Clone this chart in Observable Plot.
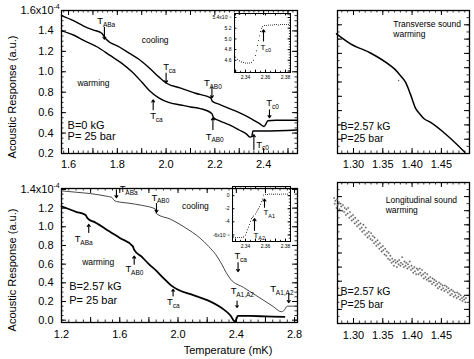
<!DOCTYPE html>
<html><head><meta charset="utf-8">
<script src="https://cdn.jsdelivr.net/npm/d3@7"></script>
<script src="https://cdn.jsdelivr.net/npm/@observablehq/plot@0.6"></script>
<style>
body{margin:0;background:#fff;font-family:"Liberation Sans",Arial,sans-serif;}
#wrap{position:relative;width:474px;height:359px;overflow:hidden;background:#fff;}
#wrap svg{position:absolute;}
.lbl{position:absolute;font-size:11px;color:#000;white-space:nowrap;z-index:5;}
</style></head><body><div id="wrap"></div><script>
// ---------- DATA ----------
// Top-left: B = 0 kG, P = 25 bar
const tlCool = [[1.571,1.55],[1.62,1.50],[1.66,1.45],[1.70,1.41],[1.735,1.38],[1.742,1.36],[1.752,1.325],[1.81,1.24],[1.85,1.18],[1.89,1.12],[1.93,1.04],[1.97,0.95],[2.0,0.89],[2.06,0.84],[2.12,0.79],[2.183,0.745],[2.19,0.71],[2.22,0.68],[2.26,0.64],[2.30,0.60],[2.35,0.54],[2.385,0.49],[2.402,0.465],[2.418,0.52],[2.45,0.525],[2.539,0.525]];
const tlWarm = [[1.571,1.40],[1.62,1.36],[1.66,1.31],[1.72,1.24],[1.77,1.16],[1.82,1.08],[1.86,1.0],[1.90,0.90],[1.93,0.82],[1.97,0.745],[2.01,0.70],[2.06,0.675],[2.10,0.655],[2.14,0.64],[2.188,0.59],[2.195,0.55],[2.22,0.52],[2.26,0.48],[2.30,0.43],[2.33,0.39],[2.345,0.36],[2.352,0.37],[2.356,0.42],[2.40,0.42],[2.539,0.43]];
const tlXTicks = [1.6,1.8,2.0,2.2,2.4];
const tlYTicks = [0.2,0.4,0.6,0.8,1.0,1.2,1.4,1.6];
const tlSubs = ["ABa","ca","ca","AB0","AB0","c0","c0"];
const tlSubX = [1.718,1.988,1.935,2.155,2.163,2.411,2.370];
const tlSubY = [1.496,1.046,0.570,0.891,0.366,0.696,0.288];
const tlArrX = [1.747,2.0,1.947,2.188,2.192,2.424,2.360];
const tlArrY1 = [1.435,0.988,0.628,0.852,0.434,0.628,0.239];
const tlArrY2 = [1.318,0.891,0.725,0.745,0.550,0.550,0.385];
// Top inset (warming T_c0)
const tiPts = [[2.330,4.66],[2.332,4.62],[2.334,4.59],[2.336,4.57],[2.338,4.56],[2.340,4.55],[2.342,4.55],[2.344,4.55],[2.346,4.56],[2.348,4.60],[2.350,4.69],[2.351,4.78],[2.352,4.88],[2.353,4.97],[2.354,5.06],[2.355,5.14],[2.356,5.20],[2.357,5.23],[2.359,5.25],[2.361,5.25],[2.363,5.26],[2.365,5.26],[2.367,5.26],[2.369,5.27],[2.371,5.27],[2.373,5.26],[2.375,5.27],[2.377,5.27],[2.379,5.27],[2.381,5.27],[2.383,5.27]];
const tiXTicks = [2.34,2.36,2.38];
const tiYTicks = [4.6,4.8,5.0,5.2,5.4];
// Bottom-left: B = 2.57 kG
const blCool = [[1.2,1.385],[1.3,1.37],[1.4,1.355],[1.5,1.33],[1.545,1.315],[1.56,1.285],[1.58,1.27],[1.65,1.255],[1.75,1.23],[1.845,1.19],[1.852,1.14],[1.95,1.08],[2.05,0.99],[2.15,0.88],[2.21,0.79],[2.26,0.70],[2.30,0.60],[2.33,0.51],[2.36,0.44],[2.45,0.35],[2.55,0.25],[2.65,0.15],[2.71,0.09],[2.725,0.10],[2.75,0.15],[2.82,0.15]];
const blWarm = [[1.2,1.22],[1.3,1.16],[1.365,1.125],[1.375,1.10],[1.39,1.075],[1.42,1.055],[1.5,0.98],[1.6,0.88],[1.69,0.79],[1.698,0.755],[1.75,0.68],[1.80,0.60],[1.85,0.53],[1.90,0.45],[1.95,0.375],[2.0,0.325],[2.1,0.27],[2.2,0.215],[2.3,0.13],[2.36,0.05],[2.39,-0.015],[2.40,0.01],[2.41,0.045],[2.5,0.045],[2.6,0.04],[2.73,0.035]];
const blXTicks = [1.2,1.6,2.0,2.4,2.8];
const blYTicks = [0.0,0.2,0.4,0.6,0.8,1.0,1.2,1.4];
const blSubs = ["ABa","AB0","ABa","AB0","ca","ca","A1,A2","A1,A2"];
const blSubX = [1.600,1.817,1.291,1.639,1.925,2.387,2.361,2.633];
const blSubY = [1.40,1.314,0.865,0.544,0.191,0.683,0.312,0.334];
const blArrX = [1.577,1.852,1.387,1.699,1.966,2.412,2.405,2.760];
const blArrY1 = [1.397,1.250,0.940,0.598,0.259,0.616,0.205,0.288];
const blArrY2 = [1.311,1.154,1.026,0.687,0.330,0.520,0.135,0.188];
// Bottom inset (T_A1, T_A2)
const biPts = [[2.328,-6.3],[2.330,-6.4],[2.332,-6.4],[2.334,-6.4],[2.336,-6.4],[2.338,-6.3],[2.340,-6.0],[2.341,-5.6],[2.342,-5.2],[2.343,-4.8],[2.344,-4.4],[2.345,-3.9],[2.346,-3.5],[2.347,-3.3],[2.348,-3.1],[2.350,-2.8],[2.351,-2.5],[2.352,-2.2],[2.353,-2.0],[2.354,-1.7],[2.355,-1.3],[2.356,-0.9],[2.357,-0.5],[2.358,0.1],[2.360,0.2],[2.362,0.2],[2.364,0.25],[2.366,0.25],[2.368,0.2],[2.370,0.25],[2.372,0.25],[2.374,0.2],[2.376,0.25],[2.378,0.25],[2.380,0.25],[2.382,0.25]];
const biXTicks = [2.34,2.36,2.38];
const biYTicks = [0,-2,-4,-6];
// Top-right: transverse sound, warming
const trPts = [[1.271,8.37],[1.295,7.67],[1.329,7.03],[1.363,6.15],[1.370,5.92],[1.380,5.45],[1.389,4.97],[1.397,4.17],[1.406,3.15],[1.413,2.78],[1.420,2.45],[1.431,2.19],[1.460,1.26],[1.490,0.09]];
const trStray = [[1.377,5.10]];
// Bottom-right: longitudinal sound, warming
const brPts = [[1.267,8.9],[1.268,8.5],[1.269,8.7],[1.271,8.2],[1.272,8.8],[1.273,8.4],[1.275,8.6],[1.276,8.1],[1.278,8.5],[1.279,8.3],[1.281,8.0],[1.282,8.4],[1.284,7.9],[1.285,8.2],[1.287,7.7],[1.288,8.1],[1.290,7.8],[1.291,8.2],[1.293,7.5],[1.294,7.9],[1.296,7.6],[1.297,7.3],[1.299,7.7],[1.300,7.4],[1.302,7.1],[1.303,7.5],[1.305,7.2],[1.306,6.9],[1.308,7.3],[1.309,7.0],[1.311,6.7],[1.312,7.1],[1.314,6.8],[1.315,6.5],[1.317,7.0],[1.318,6.6],[1.320,6.3],[1.321,6.8],[1.323,6.4],[1.324,6.1],[1.326,6.5],[1.327,6.2],[1.329,6.0],[1.330,6.4],[1.332,5.9],[1.333,6.2],[1.335,5.7],[1.336,6.1],[1.338,5.8],[1.339,5.5],[1.341,5.9],[1.342,5.6],[1.344,5.3],[1.345,5.7],[1.347,5.4],[1.348,5.1],[1.350,5.5],[1.351,5.2],[1.353,4.9],[1.354,5.3],[1.356,4.8],[1.357,5.1],[1.359,4.6],[1.360,5.0],[1.362,4.5],[1.363,4.8],[1.365,4.3],[1.366,4.6],[1.368,4.4],[1.369,4.1],[1.371,4.5],[1.372,4.3],[1.374,4.0],[1.375,4.4],[1.377,4.2],[1.378,4.5],[1.380,4.1],[1.381,4.3],[1.383,4.7],[1.384,4.2],[1.386,4.0],[1.387,4.4],[1.389,4.1],[1.390,4.3],[1.392,3.9],[1.393,4.2],[1.395,4.0],[1.396,4.4],[1.398,3.8],[1.399,4.1],[1.401,3.9],[1.402,3.6],[1.404,4.0],[1.405,3.7],[1.407,3.5],[1.408,3.9],[1.410,3.8],[1.411,3.5],[1.413,3.9],[1.414,3.6],[1.416,3.4],[1.417,3.8],[1.419,3.5],[1.420,3.2],[1.422,3.6],[1.423,3.3],[1.425,3.1],[1.426,3.5],[1.428,3.2],[1.429,3.0],[1.431,3.3],[1.432,3.0],[1.434,2.8],[1.435,3.2],[1.437,2.9],[1.438,3.1],[1.440,2.7],[1.441,3.0],[1.443,2.8],[1.444,2.5],[1.446,2.9],[1.447,2.6],[1.449,2.8],[1.450,2.4],[1.452,2.7],[1.453,2.5],[1.455,2.3],[1.456,2.7],[1.458,2.4],[1.459,2.6],[1.461,2.2],[1.462,2.5],[1.464,2.3],[1.465,2.0],[1.467,2.4],[1.468,2.1],[1.470,2.3],[1.471,1.9],[1.473,2.2],[1.474,2.0],[1.476,1.8],[1.477,2.2],[1.479,1.9],[1.480,2.1],[1.482,1.7],[1.483,2.0],[1.485,1.8],[1.486,1.6],[1.488,1.9],[1.489,1.7],[1.491,1.5],[1.492,1.8]];
const rXTicks = [1.30,1.35,1.40,1.45];

// ---------- HELPERS ----------
const FONT = '"Liberation Sans", Arial, sans-serif';
function range(lo, hi, step) { const o = []; const n = Math.round((hi - lo) / step); for (let i = 0; i <= n; i++) o.push(+(lo + i * step).toFixed(6)); return o; }
function inTicks(xs, ys, len, fw, fh, sw) {
  return [
    Plot.tickX(xs, {x: d => d, insetTop: fh - len, stroke: "#000", strokeWidth: sw}),
    Plot.tickX(xs, {x: d => d, insetBottom: fh - len, stroke: "#000", strokeWidth: sw}),
    Plot.tickY(ys, {y: d => d, insetRight: fw - len, stroke: "#000", strokeWidth: sw}),
    Plot.tickY(ys, {y: d => d, insetLeft: fw - len, stroke: "#000", strokeWidth: sw})
  ];
}
function tLabels(subs, xs, ys, fs, sfs, dx) {
  const d = subs.map((s, i) => ({s, x: xs[i], y: ys[i]}));
  return [
    Plot.text(d, {x: "x", y: "y", text: () => "T", textAnchor: "start", fontSize: fs}),
    Plot.text(d, {x: "x", y: "y", text: "s", textAnchor: "start", dx: dx, dy: fs * 0.4, fontSize: sfs})
  ];
}
function arrows(xs, y1s, y2s) {
  const d = xs.map((x, i) => ({x, y1: y1s[i], y2: y2s[i]}));
  return Plot.arrow(d, {x1: "x", x2: "x", y1: "y1", y2: "y2", headLength: 3.5, headAngle: 70, strokeWidth: 1.1, stroke: "#000"});
}
function place(svg, left, top) {
  svg.style.left = left + "px"; svg.style.top = top + "px";
  document.getElementById("wrap").appendChild(svg);
}
function panel(o) {
  const fw = o.width - o.ml - o.mr, fh = o.height - o.mt - o.mb;
  const marks = [
    Plot.frame({stroke: "#000", strokeWidth: o.fsw || 1.3}),
    ...inTicks(o.xMinor, o.yMinor, o.minLen, fw, fh, 0.8),
    ...inTicks(o.xMajor, o.yMajor, o.majLen, fw, fh, 1),
    ...(o.xLabels ? [Plot.axisX(o.xLabels, {tickSize: 0, tickPadding: o.xPad, tickFormat: o.xFmt, fontSize: o.fs, label: null})] : []),
    ...(o.yLabels ? [Plot.axisY(o.yLabels, {tickSize: 0, tickPadding: o.yPad, tickFormat: o.yFmt, fontSize: o.fs, label: null})] : []),
    ...o.marks
  ];
  return Plot.plot({
    width: o.width, height: o.height,
    marginLeft: o.ml, marginRight: o.mr, marginTop: o.mt, marginBottom: o.mb,
    x: {domain: o.xd, axis: null}, y: {domain: o.yd, axis: null},
    style: {background: "transparent", fontFamily: FONT, color: "#000", overflow: "visible"},
    marks
  });
}
const line = (pts, sw, col) => Plot.line(pts, {x: d => d[0], y: d => d[1], stroke: col || "#000", strokeWidth: sw, curve: "monotone-x"});

// ---------- TOP-LEFT ----------
place(panel({
  width: 300, height: 178, ml: 61, mr: 3, mt: 10, mb: 25,
  xd: [1.571, 2.539], yd: [0.2, 1.6],
  xMinor: range(1.58, 2.52, 0.02), xMajor: range(1.6, 2.5, 0.1),
  yMinor: range(0.2, 1.6, 0.05), yMajor: range(0.2, 1.6, 0.2),
  minLen: 2.5, majLen: 5,
  xLabels: tlXTicks, xPad: 7, xFmt: d3.format(".1f"),
  yLabels: tlYTicks, yPad: 8, yFmt: d => d === 1.6 ? "1.6x10" : d3.format(".1f")(d),
  fs: 11,
  marks: [
    line(tlCool, 1.4), line(tlWarm, 1.4),
    ...tLabels(tlSubs, tlSubX, tlSubY, 9.5, 6.5, 5.6),
    arrows(tlArrX, tlArrY1, tlArrY2),
    Plot.text(["cooling"], {x: 1.955, y: 1.308, text: d => d, fontSize: 8.5}),
    Plot.text(["warming"], {x: 1.702, y: 0.891, text: d => d, fontSize: 8.5}),
    Plot.text(["B=0 kG", "P= 25 bar"], {x: 1.596, y: [0.473, 0.366], text: d => d, textAnchor: "start", fontSize: 11}),
    Plot.text(["-4"], {frameAnchor: "top-left", text: d => d, dx: -8, dy: -6, textAnchor: "start", fontSize: 7})
  ]
}), 0, 0);

// ---------- TOP INSET ----------
place(panel({
  width: 95, height: 85, ml: 34, mr: 5, mt: 13, mb: 13,
  xd: [2.329, 2.385], yd: [4.372, 5.475], fsw: 1,
  xMinor: range(2.33, 2.385, 0.005), xMajor: range(2.33, 2.38, 0.01),
  yMinor: range(4.4, 5.45, 0.05), yMajor: range(4.4, 5.4, 0.2),
  minLen: 1.2, majLen: 2.4,
  xLabels: tiXTicks, xPad: 3, xFmt: d3.format(".2f"),
  yLabels: tiYTicks, yPad: 3, yFmt: d => d === 5.4 ? "5.4x10⁻⁵" : d3.format(".1f")(d),
  fs: 5,
  marks: [
    Plot.dot(tiPts, {x: d => d[0], y: d => d[1], r: 0.55, fill: "#222"}),
    ...tLabels(["c0"], [2.355], [4.84], 8, 5.5, 4.8),
    arrows([2.358], [4.96], [5.17])
  ]
}), 200, 0);

// ---------- TOP-RIGHT ----------
place(panel({
  width: 174, height: 178, ml: 37, mr: 5, mt: 10, mb: 25,
  xd: [1.2727, 1.498], yd: [0, 10],
  xMinor: range(1.28, 1.49, 0.01), xMajor: range(1.30, 1.45, 0.05),
  yMinor: range(0, 10, 0.5), yMajor: range(0, 10, 1),
  minLen: 2.5, majLen: 5,
  xLabels: rXTicks, xPad: 7, xFmt: d3.format(".2f"),
  fs: 11,
  marks: [
    line(trPts, 1.5),
    Plot.dot(trStray, {x: d => d[0], y: d => d[1], r: 0.7, fill: "#555"}),
    Plot.text(["Transverse sound", "warming"], {x: 1.368, y: [9.02, 8.32], text: d => d, textAnchor: "start", fontSize: 8.5}),
    Plot.text(["B=2.57 kG", "P=25 bar"], {x: 1.278, y: [1.85, 1.02], text: d => d, textAnchor: "start", fontSize: 10.5})
  ]
}), 300, 0);

// ---------- BOTTOM-LEFT ----------
place(panel({
  width: 300, height: 181, ml: 61, mr: 3, mt: 10, mb: 37,
  xd: [1.2, 2.82], yd: [-0.025, 1.41],
  xMinor: range(1.2, 2.8, 0.05), xMajor: range(1.2, 2.8, 0.2),
  yMinor: range(0, 1.4, 0.05), yMajor: range(0, 1.4, 0.2),
  minLen: 2.5, majLen: 5,
  xLabels: blXTicks, xPad: 8, xFmt: d3.format(".1f"),
  yLabels: blYTicks, yPad: 8, yFmt: d => d === 1.4 ? "1.4x10" : d3.format(".1f")(d),
  fs: 11,
  marks: [
    line(blCool, 0.9, "#333"), line(blWarm, 1.8),
    ...tLabels(blSubs, blSubX, blSubY, 9.5, 6.5, 5.6),
    arrows(blArrX, blArrY1, blArrY2),
    Plot.text(["cooling"], {x: 2.119, y: 1.218, text: d => d, fontSize: 8.5}),
    Plot.text(["warming"], {x: 1.452, y: 0.619, text: d => d, fontSize: 8.5}),
    Plot.text(["B=2.57 kG", "P= 25 bar"], {x: 1.253, y: [0.366, 0.213], text: d => d, textAnchor: "start", fontSize: 11}),
    Plot.text(["-4"], {frameAnchor: "top-left", text: d => d, dx: -8, dy: -5, textAnchor: "start", fontSize: 7})
  ]
}), 0, 178);

// ---------- BOTTOM INSET ----------
place(panel({
  width: 95, height: 75, ml: 32, mr: 5, mt: 8, mb: 12,
  xd: [2.327, 2.385], yd: [-7.0, 1.4], fsw: 1,
  xMinor: range(2.33, 2.385, 0.005), xMajor: range(2.33, 2.38, 0.01),
  yMinor: range(-7, 1, 0.5), yMajor: range(-6, 0, 2),
  minLen: 1.2, majLen: 2.4,
  xLabels: biXTicks, xPad: 3, xFmt: d3.format(".2f"),
  yLabels: biYTicks, yPad: 3, yFmt: d => d === -6 ? "-6x10⁻⁶" : String(d),
  fs: 5,
  marks: [
    Plot.dot(biPts, {x: d => d[0], y: d => d[1], r: 0.55, fill: "#222"}),
    ...tLabels(["A1", "A2"], [2.358, 2.348], [-2.58, -6.06], 8, 5.5, 4.8),
    arrows([2.359, 2.349], [-1.77, -5.3], [-0.5, -3.5])
  ]
}), 200, 178);

// ---------- BOTTOM-RIGHT ----------
place(panel({
  width: 174, height: 181, ml: 37, mr: 5, mt: 4, mb: 36,
  xd: [1.2727, 1.498], yd: [0, 10],
  xMinor: range(1.28, 1.49, 0.01), xMajor: range(1.30, 1.45, 0.05),
  yMinor: range(0, 10, 0.5), yMajor: range(0, 10, 1),
  minLen: 2.5, majLen: 5,
  xLabels: rXTicks, xPad: 8, xFmt: d3.format(".2f"),
  fs: 11,
  marks: [
    Plot.dot(brPts, {x: d => d[0], y: d => d[1], r: 0.75, fill: "#555", stroke: "#777", strokeWidth: 0.4}),
    Plot.text(["Longitudinal sound", "warming"], {x: 1.355, y: [8.72, 8.06], text: d => d, textAnchor: "start", fontSize: 8.5}),
    Plot.text(["B=2.57 kG", "P=25 bar"], {x: 1.278, y: [2.25, 1.37], text: d => d, textAnchor: "start", fontSize: 10.5})
  ]
}), 300, 178);

// ---------- AXIS TITLES ----------
function lbl(text, x, y, rot) {
  const d = document.createElement("div");
  d.className = "lbl"; d.textContent = text;
  d.style.left = x + "px"; d.style.top = y + "px";
  d.style.transform = "translate(-50%,-50%)" + (rot ? " rotate(-90deg)" : "");
  document.getElementById("wrap").appendChild(d);
}
lbl("Acoustic Response (a.u.)", 12, 97, true);
lbl("Acoustic Response (a.u.)", 12, 270, true);
lbl("Temperature (mK)", 228, 350, false);
</script></body></html>
